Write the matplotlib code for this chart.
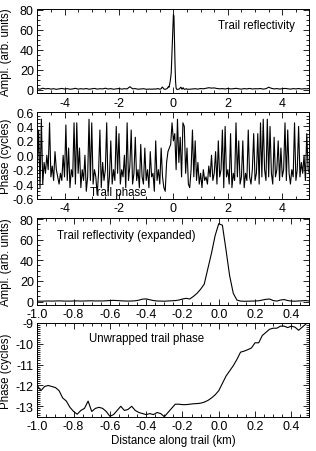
import numpy as np
import matplotlib
matplotlib.use("Agg")
import matplotlib.pyplot as plt
from matplotlib.ticker import MultipleLocator, FormatStrFormatter

plt.rcParams['font.family'] = ['Liberation Sans', 'DejaVu Sans']
plt.rcParams['axes.unicode_minus'] = False

# ---------------- data ----------------
# Amplitude noise outside the expanded window (x = -5.0 .. -1.1, step 0.1)
amp_left_x0, amp_step_coarse = -5.0, 0.1
amp_left = [1.0, 0.5, 1.5, 0.8, 1.2, 0.6, 1.0, 0.4, 0.9, 1.3,
            0.7, 1.1, 0.5, 0.8, 1.4, 0.6, 1.0, 0.7, 1.2, 0.5,
            0.9, 1.3, 0.6, 1.0, 0.8, 1.5, 0.7, 1.1, 0.5, 0.9,
            1.2, 0.6, 1.0, 0.8, 3.0, 0.9, 1.1, 0.5, 0.8, 1.0]
# Amplitude in the expanded window (x = -1.0 .. 0.5, step 0.02)
amp_mid_x0, amp_step_fine = -1.0, 0.02
amp_mid = [0.5, 0.4, 0.5, 0.6, 0.5, 0.6, 0.7, 0.6, 0.5, 0.5, 0.6, 0.7, 0.5, 0.6, 0.7,
           0.8, 0.6, 0.7, 0.6, 0.8, 1.0, 1.2, 1.0, 0.8, 0.6,
           0.5, 0.6, 0.8, 1.4, 2.4, 2.6, 1.8, 1.0, 0.6, 0.5,
           0.4, 0.6, 0.8, 1.0, 1.5, 2.5, 3.2, 2.5, 5.0, 8.0,
           12.0, 17.0, 32.0, 47.0, 64.0, 75.5, 74.0, 50.0, 25.0, 8.0,
           1.5, 0.5, 0.3, 0.4, 0.5, 0.6, 0.8, 1.5, 2.2, 2.5,
           1.0, 0.5, 1.5, 2.0, 1.0, 0.5, 0.4, 0.6, 0.8, 1.0, 0.5]
# Amplitude noise right of the window (x = 0.6 .. 5.0, step 0.1)
amp_right_x0 = 0.6
amp_right = [0.5, 0.8, 1.0, 0.6, 1.2, 0.9, 1.5, 2.0, 1.6, 1.8,
             1.2, 0.9, 1.1, 0.7, 1.3, 0.8, 1.0, 1.4, 0.9, 0.6,
             1.1, 0.8, 1.3, 0.7, 1.0, 0.9, 1.2, 0.6, 1.0, 2.5,
             1.4, 0.8, 1.1, 0.7, 1.0, 1.3, 0.9, 0.6, 1.1, 0.8,
             1.2, 0.7, 1.0, 0.9, 1.2]

# Wrapped trail phase (x = -5.0 .. 5.0, step 0.05)
phase_x0, phase_step = -5.0, 0.05
phase = [-0.20, 0.35, -0.45, 0.50, -0.40, -0.10, -0.25, 0.00, -0.20, 0.45,
         -0.30, -0.15, -0.35, 0.05, -0.20, -0.30, -0.40, -0.25, -0.35, 0.00,
         -0.30, 0.42, -0.35, 0.10, -0.45, -0.20, -0.30, 0.45, -0.40, 0.45,
         -0.25, 0.10, -0.45, -0.20, -0.35, 0.00, -0.50, -0.30, 0.50, -0.35,
         0.45, -0.40, -0.20, -0.30, -0.55, -0.25, 0.35, -0.45, -0.10, -0.35,
         -0.20, 0.45, -0.50, -0.30, 0.20, -0.40, -0.20, -0.35, 0.40, -0.25,
         0.30, -0.40, -0.20, -0.30, 0.00, -0.45, 0.45, -0.35, -0.15, 0.35,
         -0.40, -0.25, 0.25, -0.35, -0.20, -0.45, 0.15, -0.30, -0.40, 0.10,
         -0.35, -0.20, -0.45, 0.05, -0.30, -0.25, -0.50, 0.20, -0.35, -0.20,
         -0.40, 0.10, -0.30, -0.45, -0.50, -0.10, 0.05, 0.10, 0.15, 0.45,
         0.20, 0.30, -0.20, 0.50, -0.10, 0.25, -0.30, 0.45, 0.40, -0.25,
         0.10, -0.40, -0.45, -0.20, 0.35, -0.30, 0.20, -0.35, -0.10, -0.40,
         -0.25, -0.45, -0.20, -0.35, -0.30, -0.40, -0.15, -0.30, 0.00, -0.35,
         -0.25, 0.05, -0.40, 0.20, -0.30, -0.20, 0.35, -0.45, 0.40, -0.30,
         -0.20, -0.40, 0.30, -0.45, -0.25, -0.35, 0.45, -0.30, 0.20, -0.40,
         -0.30, 0.20, -0.45, -0.25, -0.35, 0.35, -0.30, -0.40, -0.20, 0.30,
         -0.35, -0.25, 0.30, -0.40, 0.45, -0.30, 0.50, -0.20, -0.35, 0.50,
         -0.30, 0.40, -0.25, -0.40, 0.25, -0.30, -0.20, 0.20, -0.35, 0.10,
         -0.30, -0.20, 0.45, -0.35, 0.35, -0.25, -0.40, -0.20, -0.30, 0.45,
         -0.35, -0.20, 0.40, -0.30, -0.10, -0.25, 0.00, -0.35, 0.30, -0.20,
         -0.25]

# Unwrapped trail phase (x = -1.0 .. 0.5, step 0.02)
unwrap_x0, unwrap_step = -1.0, 0.02
unwrapped = [-12.00, -12.25, -12.05, -12.00, -12.05, -12.10, -12.25, -12.60, -12.75, -13.05,
             -13.25, -13.38, -13.20, -13.10, -12.75, -13.25, -13.10, -13.05, -13.10, -13.25,
             -13.48, -13.40, -13.20, -13.00, -13.20, -13.15, -13.00, -13.20, -13.30, -13.35,
             -13.40, -13.35, -13.40, -13.30, -13.35, -13.50, -13.30, -13.10, -12.90, -12.90,
             -12.92, -12.92, -12.90, -12.88, -12.87, -12.85, -12.80, -12.72, -12.60, -12.45,
             -12.25, -11.90, -11.55, -11.30, -11.05, -10.75, -10.40, -10.35, -10.28, -10.20,
             -9.95, -9.95, -9.60, -9.45, -9.30, -9.25, -9.25, -9.15, -9.15, -9.22,
             -9.15, -9.20, -9.35, -9.20, -9.05, -8.90]

wide_ticks = [-4, -2, 0, 2, 4]
narrow_ticks = [-1.0, -0.8, -0.6, -0.4, -0.2, 0.0, 0.2, 0.4]

# ---------------- derived x arrays ----------------
xl = amp_left_x0 + amp_step_coarse * np.arange(len(amp_left))
xm = amp_mid_x0 + amp_step_fine * np.arange(len(amp_mid))
xr = amp_right_x0 + amp_step_coarse * np.arange(len(amp_right))
amp_x = np.concatenate([xl, xm, xr])
amp_y = np.concatenate([amp_left, amp_mid, amp_right])
ph_x = phase_x0 + phase_step * np.arange(len(phase))
uw_x = unwrap_x0 + unwrap_step * np.arange(len(unwrapped))

# ---------------- figure ----------------
W, H = 316, 452
fig = plt.figure(figsize=(W / 100, H / 100), dpi=100)

def px_axes(top, bottom, left=37.3, right=309.5):
    return fig.add_axes([left / W, 1 - bottom / H, (right - left) / W, (bottom - top) / H])

ax1 = px_axes(10.0, 94.3)
ax2 = px_axes(113.0, 199.5)
ax3 = px_axes(219.0, 305.7)
ax4 = px_axes(324.0, 417.7)

lw = 0.8
ax1.plot(amp_x, amp_y, color='black', lw=lw)
ax2.plot(ph_x, phase, color='black', lw=lw)
ax3.plot(xm, amp_mid, color='black', lw=lw)
ax4.plot(uw_x, unwrapped, color='black', lw=lw)

ax1.set_xlim(-5, 5); ax1.set_ylim(-3.6, 81)
ax2.set_xlim(-5, 5); ax2.set_ylim(-0.6, 0.6)
ax3.set_xlim(-1.0, 0.5); ax3.set_ylim(-3.0, 81)
ax4.set_xlim(-1.0, 0.5); ax4.set_ylim(-13.5, -9)

for ax in (ax1, ax2):
    ax.set_xticks(wide_ticks)
    ax.xaxis.set_minor_locator(MultipleLocator(0.5))
for ax in (ax3, ax4):
    ax.set_xticks(narrow_ticks)
    ax.xaxis.set_major_formatter(FormatStrFormatter('%.1f'))
    ax.xaxis.set_minor_locator(MultipleLocator(0.05))

for ax in (ax1, ax3):
    ax.set_yticks([0, 20, 40, 60, 80])
    ax.yaxis.set_minor_locator(MultipleLocator(5))
ax2.set_yticks([-0.6, -0.4, -0.2, 0.0, 0.2, 0.4, 0.6])
ax2.yaxis.set_major_formatter(FormatStrFormatter('%.1f'))
ax2.yaxis.set_minor_locator(MultipleLocator(0.05))
ax4.set_yticks([-13, -12, -11, -10, -9])
ax4.yaxis.set_minor_locator(MultipleLocator(0.1))

for ax in (ax1, ax2, ax3, ax4):
    ax.tick_params(which='both', direction='in', top=True, right=True,
                   labelsize=9, width=0.6, pad=2.5)
    ax.tick_params(which='major', length=4)
    ax.tick_params(which='minor', length=2)
    for s in ax.spines.values():
        s.set_linewidth(0.7)

lab_fs = 8.3
ax1.set_ylabel('Ampl. (arb. units)', fontsize=lab_fs)
ax2.set_ylabel('Phase (cycles)', fontsize=lab_fs)
ax3.set_ylabel('Ampl. (arb. units)', fontsize=lab_fs)
ax4.set_ylabel('Phase (cycles)', fontsize=lab_fs)
for ax in (ax1, ax2, ax3, ax4):
    ax.yaxis.set_label_coords(-0.093, 0.5)
ax4.set_xlabel('Distance along trail (km)', fontsize=lab_fs, labelpad=1.5)

ax1.text(0.664, 0.81, 'Trail reflectivity', transform=ax1.transAxes,
         fontsize=lab_fs, ha='left', va='center')
ax2.text(0.194, 0.072, 'Trail phase', transform=ax2.transAxes,
         fontsize=lab_fs, ha='left', va='center')
ax3.text(0.0735, 0.804, 'Trail reflectivity (expanded)', transform=ax3.transAxes,
         fontsize=lab_fs, ha='left', va='center')
ax4.text(0.191, 0.837, 'Unwrapped trail phase', transform=ax4.transAxes,
         fontsize=lab_fs, ha='left', va='center')

fig.savefig('out.png', dpi=100)
